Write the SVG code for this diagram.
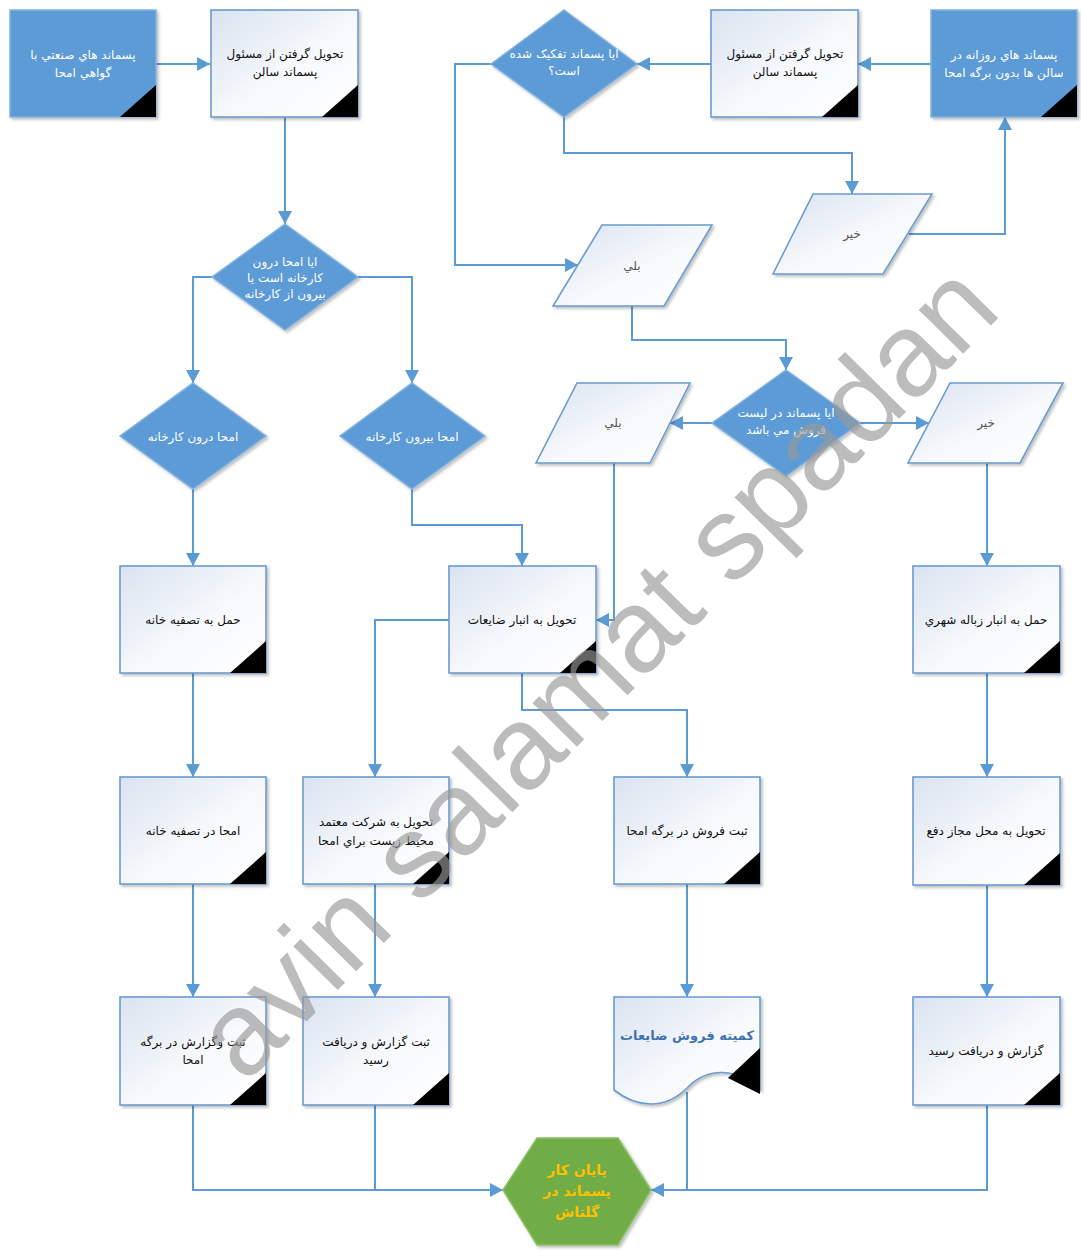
<svg xmlns="http://www.w3.org/2000/svg" width="1081" height="1258" viewBox="0 0 1081 1258">
<defs>
<linearGradient id="g" x1="0" y1="0" x2="1" y2="1">
<stop offset="0" stop-color="#d9e3f0"/>
<stop offset="0.55" stop-color="#f7f9fc"/>
<stop offset="1" stop-color="#ffffff"/>
</linearGradient>
<filter id="sh" x="-10%" y="-10%" width="130%" height="130%">
<feDropShadow dx="2" dy="2" stdDeviation="1.5" flood-color="#000" flood-opacity="0.25"/>
</filter>
<marker id="ar" markerUnits="userSpaceOnUse" markerWidth="14" markerHeight="14" refX="13" refY="7" orient="auto">
<path d="M0,0 L13,7 L0,14 z" fill="#5b9bd5"/>
</marker>
<style>
.box{fill:url(#g);stroke:#6b9bd2;stroke-width:1.6;filter:url(#sh)}
.blue{fill:#5b9bd5;stroke:#82b2e0;stroke-width:1.5;filter:url(#sh)}
.corner{fill:#000}
.conn{stroke:#5b9bd5;stroke-width:2;fill:none}
.arr{marker-end:url(#ar)}
text{font-family:"DejaVu Sans","Noto Sans",sans-serif;font-size:12px;text-anchor:middle;direction:rtl}
.tk{fill:#111}
.tw{fill:#fff}
.tg{fill:#555}
.ty{fill:#ffc000;font-weight:bold;font-size:14px}
.tb{fill:#3f72b0;font-weight:bold;font-size:13px}
.wm{font-family:"Liberation Sans",Arial,sans-serif;font-size:118px;fill:#999;opacity:0.65;direction:ltr}
</style>
</defs>

<g id="connectors">
<path class="conn arr" d="M156,64 H210"/>
<path class="conn arr" d="M285,117 V224"/>
<path class="conn arr" d="M212,277 H193 V383"/>
<path class="conn arr" d="M358,277 H412 V383"/>
<path class="conn arr" d="M193,489 V566"/>
<path class="conn arr" d="M412,489 V525 H522 V566"/>
<path class="conn arr" d="M193,673 V777"/>
<path class="conn arr" d="M193,884 V997"/>
<path class="conn arr" d="M449,620 H375 V777"/>
<path class="conn arr" d="M375,884 V997"/>
<path class="conn arr" d="M522,673 V710 H687 V777"/>
<path class="conn arr" d="M687,884 V997"/>
<path class="conn arr" d="M193,1105 V1190 H503"/>
<path class="conn" d="M375,1105 V1190"/>
<path class="conn arr" d="M987,1105 V1190 H651"/>
<path class="conn" d="M687,1092 V1190"/>
<path class="conn arr" d="M931,64 H858"/>
<path class="conn arr" d="M711,64 H637"/>
<path class="conn arr" d="M491,64 H455 V265 H578"/>
<path class="conn arr" d="M564,117 V153 H852 V194"/>
<path class="conn arr" d="M909,234 H1005 V117"/>
<path class="conn arr" d="M632,306 V340 H786 V370"/>
<path class="conn arr" d="M712,423 H670"/>
<path class="conn arr" d="M860,423 H929"/>
<path class="conn arr" d="M614,463 V620 H596"/>
<path class="conn arr" d="M987,463 V566"/>
<path class="conn arr" d="M987,673 V777"/>
<path class="conn arr" d="M987,884 V997"/>
</g>

<g id="n_industrial">
<rect class="blue" x="10" y="10" width="146" height="107"/>
<polygon class="corner" points="156,85 156,117 120,117"/>
<text class="tw" x="83" y="59">پسماند هاي صنعتي با</text>
<text class="tw" x="83" y="77">گواهي امحا</text>
</g>
<g id="n_receive1">
<rect class="box" x="211" y="10" width="147" height="107"/>
<polygon class="corner" points="358,85 358,117 322,117"/>
<text class="tk" x="285" y="58">تحويل گرفتن از مسئول</text>
<text class="tk" x="285" y="76">پسماند سالن</text>
</g>
<g id="n_q_inout">
<polygon class="blue" points="285,224 358,277 285,330 212,277"/>
<text class="tw" x="285" y="266">ايا امحا درون</text>
<text class="tw" x="285" y="282">کارخانه است يا</text>
<text class="tw" x="285" y="298">بيرون از کارخانه</text>
</g>
<g id="n_inside">
<polygon class="blue" points="193,383 266,436 193,489 120,436"/>
<text class="tw" x="193" y="441">امحا درون کارخانه</text>
</g>
<g id="n_outside">
<polygon class="blue" points="412,383 485,436 412,489 340,436"/>
<text class="tw" x="412" y="441">امحا بيرون کارخانه</text>
</g>
<g id="n_carry_plant">
<rect class="box" x="120" y="566" width="146" height="107"/>
<polygon class="corner" points="266,641 266,673 230,673"/>
<text class="tk" x="193" y="624">حمل به تصفيه خانه</text>
</g>
<g id="n_waste_store">
<rect class="box" x="449" y="566" width="147" height="107"/>
<polygon class="corner" points="596,641 596,673 560,673"/>
<text class="tk" x="522" y="624">تحويل به انبار ضايعات</text>
</g>
<g id="n_destroy_plant">
<rect class="box" x="120" y="777" width="146" height="107"/>
<polygon class="corner" points="266,852 266,884 230,884"/>
<text class="tk" x="193" y="835">امحا در تصفيه خانه</text>
</g>
<g id="n_company">
<rect class="box" x="303" y="777" width="146" height="107"/>
<polygon class="corner" points="449,852 449,884 413,884"/>
<text class="tk" x="376" y="826">تحويل به شرکت معتمد</text>
<text class="tk" x="376" y="845">محيط زيست براي امحا</text>
</g>
<g id="n_sale_record">
<rect class="box" x="614" y="777" width="146" height="107"/>
<polygon class="corner" points="760,852 760,884 724,884"/>
<text class="tk" x="687" y="835">ثبت فروش در برگه امحا</text>
</g>
<g id="n_report1">
<rect class="box" x="120" y="997" width="146" height="108"/>
<polygon class="corner" points="266,1073 266,1105 230,1105"/>
<text class="tk" x="193" y="1046">ثبت وگزارش در برگه</text>
<text class="tk" x="193" y="1064">امحا</text>
</g>
<g id="n_report2">
<rect class="box" x="303" y="997" width="146" height="108"/>
<polygon class="corner" points="449,1073 449,1105 413,1105"/>
<text class="tk" x="376" y="1046">ثبت گزارش و دريافت</text>
<text class="tk" x="376" y="1064">رسيد</text>
</g>
<g id="n_committee">
<path class="box" d="M614,997 H760 V1090 C738,1068 708,1066 687,1088 C665,1110 637,1108 614,1090 Z"/>
<polygon class="corner" points="760,1048 760,1094 728,1078"/>
<text class="tb" x="687" y="1040">کميته فروش ضايعات</text>
</g>
<g id="n_city_dump">
<rect class="box" x="913" y="566" width="147" height="107"/>
<polygon class="corner" points="1060,641 1060,673 1024,673"/>
<text class="tk" x="986" y="624">حمل به انبار زباله شهري</text>
</g>
<g id="n_disposal">
<rect class="box" x="913" y="777" width="147" height="108"/>
<polygon class="corner" points="1060,853 1060,885 1024,885"/>
<text class="tk" x="986" y="835">تحويل به محل مجاز دفع</text>
</g>
<g id="n_report3">
<rect class="box" x="913" y="997" width="147" height="108"/>
<polygon class="corner" points="1060,1073 1060,1105 1024,1105"/>
<text class="tk" x="986" y="1055">گزارش و دريافت رسيد</text>
</g>
<g id="n_end">
<polygon points="503,1190 537,1138 618,1138 651,1190 618,1245 537,1245" fill="#70ad47" stroke="#8cc063" stroke-width="1.5" filter="url(#sh)"/>
<text class="ty" x="577" y="1175">پايان کار</text>
<text class="ty" x="577" y="1196">پسماند در</text>
<text class="ty" x="577" y="1217">گلتاش</text>
</g>
<g id="n_daily">
<rect class="blue" x="931" y="10" width="146" height="107"/>
<polygon class="corner" points="1077,85 1077,117 1041,117"/>
<text class="tw" x="1004" y="59">پسماند هاي روزانه در</text>
<text class="tw" x="1004" y="77">سالن ها بدون برگه امحا</text>
</g>
<g id="n_receive2">
<rect class="box" x="711" y="10" width="147" height="107"/>
<polygon class="corner" points="858,85 858,117 822,117"/>
<text class="tk" x="785" y="58">تحويل گرفتن از مسئول</text>
<text class="tk" x="785" y="76">پسماند سالن</text>
</g>
<g id="n_q_sorted">
<polygon class="blue" points="564,10 637,64 564,117 491,64"/>
<text class="tw" x="564" y="58">ايا پسماند تفکيک شده</text>
<text class="tw" x="564" y="75">است؟</text>
</g>
<g id="n_no1">
<polygon class="box" points="813,194 932,194 883,274 773,274"/>
<text class="tg" x="852" y="238">خير</text>
</g>
<g id="n_yes1">
<polygon class="box" points="602,225 712,225 664,306 553,306"/>
<text class="tg" x="632" y="270">بلي</text>
</g>
<g id="n_q_sale">
<polygon class="blue" points="786,370 860,423 786,476 712,423"/>
<text class="tw" x="786" y="417">ايا پسماند در ليست</text>
<text class="tw" x="786" y="434">فروش مي باشد</text>
</g>
<g id="n_yes2">
<polygon class="box" points="577,383 690,383 650,463 536,463"/>
<text class="tg" x="613" y="427">بلي</text>
</g>
<g id="n_no2">
<polygon class="box" points="950,383 1063,383 1020,463 908,463"/>
<text class="tg" x="986" y="427">خير</text>
</g>

<text class="wm" x="0" y="0" transform="translate(597,672) rotate(-45.5)" dy="38" text-anchor="middle">avin salamat spadan</text>
</svg>
